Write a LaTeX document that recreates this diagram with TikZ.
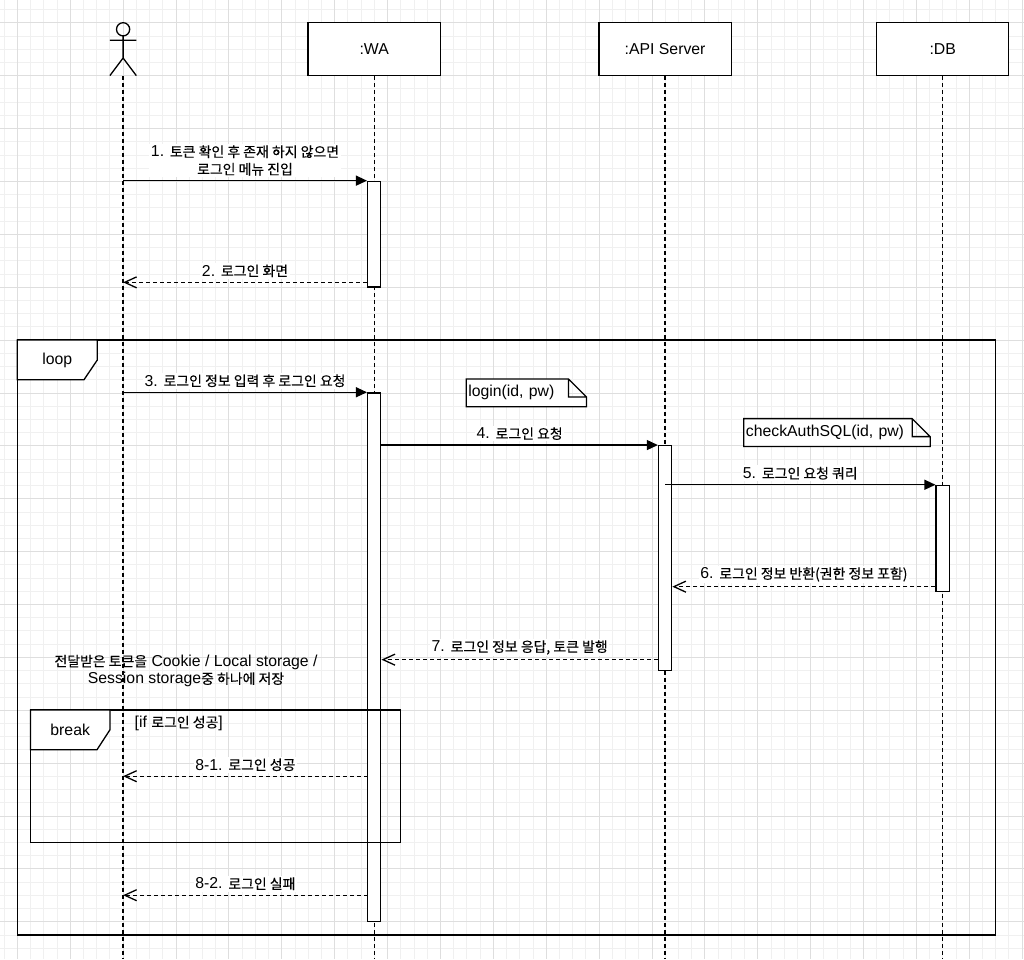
\documentclass[tikz,border=0pt]{standalone}
\usepackage{fontspec}
\setmainfont{Liberation Sans}
\newfontfamily\kr{Noto Sans CJK KR}[Scale=0.88,FakeBold=0.3]
\usetikzlibrary{arrows.meta,calc}

\begin{document}
\begin{tikzpicture}[x=1pt,y=-1pt,line width=1.3pt,font=\fontsize{15.8}{17.5}\selectfont]
    \tikzstyle{every node}=[inner sep=1pt]
    \tikzstyle{minorgrid}=[line width=0.7pt,black!6]
    \tikzstyle{majorgrid}=[line width=0.7pt,black!13]
    \tikzstyle{obj}=[draw,fill=white,minimum width=132.2pt,minimum height=52.9pt]
    \tikzstyle{act}=[draw,fill=white,minimum width=13.2pt,inner sep=0pt]
    \tikzstyle{lifeline}=[dash pattern=on 4pt off 3pt]
    \tikzstyle{call}=[-{Triangle[length=11pt,width=10pt]}]
    \tikzstyle{reply}=[dash pattern=on 4pt off 3pt,-{Straight Barb[length=12pt,width=11pt]}]
    \tikzstyle{msg}=[fill=white,anchor=south,align=center,inner sep=1.5pt,yshift=3pt]
    \tikzstyle{notebox}=[minimum height=26.5pt,align=left,inner sep=1.5pt]
    \useasboundingbox (0,0) rectangle (1024,959);
    \fill[white] (0,0) rectangle (1024,959);
    \foreach \k in {-1,...,76} \draw[minorgrid] ({17.3+13.22*\k},0) -- ({17.3+13.22*\k},959);
    \foreach \k in {-1,...,71} \draw[minorgrid] (0,{22.7+13.22*\k}) -- (1024,{22.7+13.22*\k});
    \foreach \k in {0,...,19} \draw[majorgrid] ({17.3+52.88*\k},0) -- ({17.3+52.88*\k},959);
    \foreach \k in {0,...,17} \draw[majorgrid] (0,{22.7+52.88*\k}) -- (1024,{22.7+52.88*\k});
    \coordinate (bottom) at (0,959);
    \draw (123.1,29.3) circle (6.6) (123.1,35.9) -- (123.1,58) (109.9,40.3) -- (136.3,40.3) (109.9,75.6) -- (123.1,58) -- (136.3,75.6);
    \coordinate (user) at (123.1,75.6);
    \node[obj] (wa) at (374.2,49.15) {:WA};
    \node[obj] (api) at (665.1,49.15) {:API Server};
    \node[obj] (db) at (942.7,49.15) {:DB};
    \draw[lifeline] (user) -- (user |- bottom);
    \draw[lifeline] (wa.south) -- (wa.south |- bottom);
    \draw[lifeline] (api.south) -- (api.south |- bottom);
    \draw[lifeline] (db.south) -- (db.south |- bottom);
    \draw (17.3,340) rectangle (995.6,934.9);
    \draw[fill=white] (17.3,340) -- (97.3,340) -- (97.3,360) -- (84,379.7) -- (17.3,379.7) -- cycle;
    \node (loop) at (57.3,360) {loop};
    \node[act,minimum height=105.8pt] (act1) at (374.2,234.2) {};
    \node[act,minimum height=528.8pt] (act2) at (374.2,657.3) {};
    \node[act,minimum height=224.8pt] (apiact) at (665.1,558.1) {};
    \node[act,minimum height=105.8pt] (dbact) at (942.7,538.3) {};
    \draw (30.5,710) rectangle (400.7,842.3);
    \draw[fill=white] (30.5,710) -- (110,710) -- (110,729.7) -- (97,749.7) -- (30.5,749.7) -- cycle;
    \node (brk) at (70.2,730) {break};
    \node[anchor=west] (cond) at (133,723.3) {[if {\kr 로그인 성공}]};
    \coordinate (m2) at ($(act1.south west)+(0,-5.4)$);
    \coordinate (m6) at ($(dbact.south west)+(0,-5.2)$);
    \coordinate (m7) at ($(apiact.south west)+(0,-11.5)$);
    \coordinate (m81) at (367.6,776.2);
    \coordinate (m82) at (367.6,895.2);
    \draw[call] (user |- act1.north) -- (act1.north west) node[msg,midway] {1. {\kr 토큰 확인 후 존재 하지 않으면}\\{\kr 로그인 메뉴 진입}};
    \draw[reply] (m2) -- (user |- m2) node[msg,midway] {2. {\kr 로그인 화면}};
    \draw[call] (user |- act2.north) -- (act2.north west) node[msg,midway] {3. {\kr 로그인 정보 입력 후 로그인 요청}};
    \draw[call] (act2.east |- apiact.north) -- (apiact.north west) node[msg,midway] {4. {\kr 로그인 요청}};
    \draw[call] (api |- dbact.north) -- (dbact.north west) node[msg,midway] {5. {\kr 로그인 요청 쿼리}};
    \draw[reply] (m6) -- (apiact.east |- m6) node[msg,midway] {6. {\kr 로그인 정보 반환(권한 정보 포함)}};
    \draw[reply] (m7) -- (act2.east |- m7) node[msg,midway] {7. {\kr 로그인 정보 응답, 토큰 발행}};
    \draw[reply] (m81) -- (user |- m81) node[msg,midway] {8-1. {\kr 로그인 성공}};
    \draw[reply] (m82) -- (user |- m82) node[msg,midway] {8-2. {\kr 로그인 실패}};
    \node[align=center] (store) at (186,671) {{\kr 전달받은 토큰을} Cookie / Local storage /\\Session storage{\kr 중 하나에 저장}};
    \node[notebox,text width=116pt] (n1) at (526.3,392.85) {login(id, pw)};
    \draw[fill=white] (n1.north west) -- ([xshift=-18pt]n1.north east) -- ([yshift=-18pt]n1.north east) -- (n1.south east) -- (n1.south west) -- cycle ([xshift=-18pt]n1.north east) |- ([yshift=-18pt]n1.north east);
    \node[notebox,text width=182.1pt] (n2) at (836.95,432.5) {checkAuthSQL(id, pw)};
    \draw[fill=white] (n2.north west) -- ([xshift=-18pt]n2.north east) -- ([yshift=-18pt]n2.north east) -- (n2.south east) -- (n2.south west) -- cycle ([xshift=-18pt]n2.north east) |- ([yshift=-18pt]n2.north east);
    \node[notebox,text width=116pt] at (n1) {login(id, pw)};
    \node[notebox,text width=182.1pt] at (n2) {checkAuthSQL(id, pw)};
\end{tikzpicture}
\end{document}
